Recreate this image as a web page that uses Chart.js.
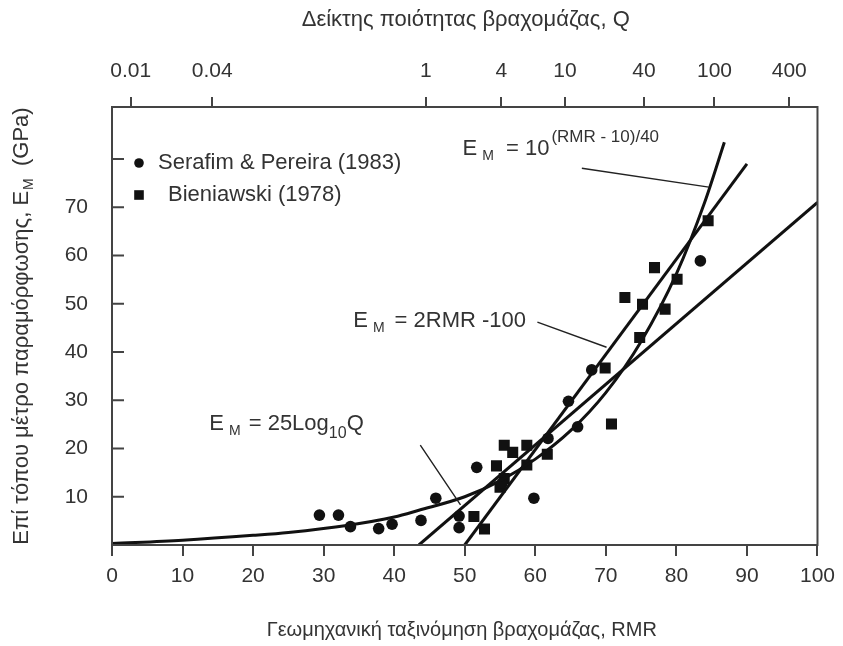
<!DOCTYPE html>
<html><head><meta charset="utf-8">
<script src="https://cdn.jsdelivr.net/npm/chart.js@4.4.1/dist/chart.umd.min.js"></script>
<style>html,body{margin:0;padding:0;background:#fff;}canvas{display:block}</style>
</head><body>
<canvas id="c" width="843" height="646"></canvas>
<script>
// ---------- data ----------
const rmrTickValues = [0,10,20,30,40,50,60,70,80,90,100];
const emTickValues = [10,20,30,40,50,60,70,80];
const emTickLabels = ['10','20','30','40','50','60','70',''];
const qTickLabels = ['0.01','0.04','1','4','10','40','100','400'];
const qTickRMR = [2.65, 14.2, 44.5, 55.2, 64.2, 75.4, 85.4, 96.0];

const serafimRMR = [29.4,32.1,33.8,37.8,39.7,43.8,45.9,49.2,49.2,51.7,55.3,59.8,61.8,64.7,66.0,68.0,83.4];
const serafimEM  = [6.2, 6.2, 3.8, 3.4, 4.3, 5.1, 9.7, 6.0, 3.6, 16.1,12.8,9.7, 22.1,29.8,24.5,36.3,58.9];

const bieniawskiRMR = [51.3,52.8,54.5,55.0,55.6,55.6,56.8,58.8,58.8,61.7,69.9,70.8,72.7,74.8,75.2,76.9,78.4,80.1,84.5];
const bieniawskiEM  = [5.9, 3.3, 16.4,12.0,13.8,20.7,19.2,20.7,16.6,18.8,36.7,25.1,51.3,43.0,49.9,57.5,48.9,55.1,67.2];

const linearRMR = [50, 90];          // E = 2RMR - 100
const linearEM  = [0, 79];
const logQRMR   = [43.5, 100];       // E = 25 log10 Q
const logQEM    = [0, 71];
const expRMR = [0, 10, 20, 25, 33.5, 40, 43.5, 50, 55, 60, 65, 70, 75, 80, 84, 86.8]; // E = 10^((RMR-10)/40)
const expEM  = [0.3, 1.0, 2.0, 2.6, 4.1, 5.8, 7.2, 10.0, 13.3, 17.8, 23.7, 31.6, 42.2, 56.2, 71, 83.5];

const legendLabels = ['Serafim & Pereira (1983)', 'Bieniawski (1978)'];
const xTitle = 'Γεωμηχανική ταξινόμηση βραχομάζας, RMR';
const topTitle = 'Δείκτης ποιότητας βραχομάζας, Q';

// ---------- styles ----------
const FONT = "'Liberation Sans', Arial, sans-serif";
const FS = 22;      // annotations, legend, y title, top title
const FT = 21;      // tick labels
const FB = 20;      // bottom title
const TXT = '#333';
const AX = '#444';
const INK = '#111';

const pts = (xs, ys) => xs.map((v,i)=>({x:v, y:ys[i]}));

function rich(ctx, x, y, parts, base){
  let cx = x;
  parts.forEach(p=>{
    const s = p.s || base;
    ctx.font = `${s}px ${FONT}`;
    cx += (p.pre||0);
    ctx.fillText(p.t, cx, y + (p.dy||0));
    cx += ctx.measureText(p.t).width;
  });
  return cx - x;
}
function richWidth(ctx, parts, base){
  let w=0; parts.forEach(p=>{ctx.font=`${p.s||base}px ${FONT}`; w+=ctx.measureText(p.t).width+(p.pre||0);}); return w;
}

const deco = {
  id:'deco',
  afterDraw(chart){
    const {ctx, chartArea:a, scales:{x,y}} = chart;
    const X = v=>x.getPixelForValue(v), Y = v=>y.getPixelForValue(v);
    ctx.save();
    // frame
    ctx.strokeStyle = AX; ctx.lineWidth = 2;
    ctx.strokeRect(a.left, a.top, a.right-a.left, a.bottom-a.top);
    // inward y ticks
    ctx.beginPath();
    emTickValues.forEach(v=>{const py=Y(v); ctx.moveTo(a.left, py); ctx.lineTo(a.left+12, py);});
    ctx.stroke();
    // leader lines
    ctx.strokeStyle = '#222'; ctx.lineWidth = 1.4;
    const leaders = [[66.6,78.1,84.6,74.2],[60.3,46.2,70.1,41.0],[43.7,20.7,49.4,8.3]];
    ctx.beginPath();
    leaders.forEach(l=>{ctx.moveTo(X(l[0]),Y(l[1])); ctx.lineTo(X(l[2]),Y(l[3]));});
    ctx.stroke();
    // annotations
    ctx.fillStyle = TXT; ctx.textBaseline='alphabetic'; ctx.textAlign='left';
    rich(ctx, X(49.7), Y(80.8), [{t:'E'},{t:'M',s:14,dy:5,pre:5},{t:'= 10',pre:12},{t:'(RMR - 10)/40',s:17,dy:-13,pre:2}], FS);
    rich(ctx, X(34.2), Y(45.2), [{t:'E'},{t:'M',s:14,dy:5,pre:5},{t:'= 2RMR -100',pre:10}], FS);
    rich(ctx, X(13.8), Y(23.8), [{t:'E'},{t:'M',s:14,dy:5,pre:5},{t:'= 25Log',pre:8},{t:'10',s:16,dy:8},{t:'Q'}], FS);
    // legend
    ctx.fillStyle = INK;
    const lx = a.left + 27;
    const ly1 = a.top + 56, ly2 = a.top + 88;
    ctx.beginPath(); ctx.arc(lx, ly1, 4.8, 0, Math.PI*2); ctx.fill();
    ctx.fillRect(lx-4.8, ly2-4.8, 9.6, 9.6);
    ctx.fillStyle = TXT; ctx.font = `${FS}px ${FONT}`; ctx.textBaseline='middle';
    ctx.fillText(legendLabels[0], lx+19, ly1);
    ctx.fillText(legendLabels[1], lx+29, ly2);
    // titles
    ctx.textAlign='center'; ctx.textBaseline='middle';
    ctx.font = `${FB}px ${FONT}`;
    ctx.fillText(xTitle, (a.left+a.right)/2 - 3, 630);
    ctx.font = `${FS}px ${FONT}`;
    ctx.fillText(topTitle, (a.left+a.right)/2 + 1, 20);
    // y title rotated with subscript
    ctx.save();
    ctx.translate(20, (a.top+a.bottom)/2);
    ctx.rotate(-Math.PI/2);
    ctx.textAlign='left'; ctx.textBaseline='alphabetic';
    const yParts = [{t:'Επί τόπου μέτρο παραμόρφωσης, E'},{t:'M',s:14,dy:5,pre:1},{t:'  (GPa)'}];
    const w = richWidth(ctx, yParts, FS);
    rich(ctx, -w/2, 8, yParts, FS);
    ctx.restore();
    ctx.restore();
  }
};

new Chart(document.getElementById('c'), {
  type:'scatter',
  data:{datasets:[
    {type:'line', data:pts(expRMR, expEM), borderColor:INK, borderWidth:3, pointRadius:0, cubicInterpolationMode:'monotone', fill:false},
    {type:'line', data:pts(linearRMR, linearEM), borderColor:INK, borderWidth:3, pointRadius:0, fill:false},
    {type:'line', data:pts(logQRMR, logQEM), borderColor:INK, borderWidth:3, pointRadius:0, fill:false},
    {label:legendLabels[0], data:pts(serafimRMR, serafimEM), pointStyle:'circle', pointRadius:5.8, backgroundColor:INK, borderColor:INK, borderWidth:0},
    {label:legendLabels[1], data:pts(bieniawskiRMR, bieniawskiEM), pointStyle:'rect', pointRadius:7.8, backgroundColor:INK, borderColor:INK, borderWidth:0}
  ]},
  options:{
    responsive:false, animation:false, devicePixelRatio:1,
    layout:{padding:{left:0,right:21,top:0,bottom:0}},
    plugins:{legend:{display:false}, tooltip:{enabled:false}},
    scales:{
      x:{type:'linear', position:'bottom', min:0, max:100,
        afterBuildTicks:s=>{s.ticks = rmrTickValues.map(v=>({value:v}));},
        afterFit:s=>{s.height=101;},
        ticks:{font:{family:FONT,size:FT}, color:TXT, padding:8, maxRotation:0, autoSkip:false},
        grid:{drawOnChartArea:false, drawTicks:true, tickLength:11, color:AX, lineWidth:2},
        border:{display:false}},
      x2:{type:'linear', position:'top', min:0, max:100,
        afterBuildTicks:s=>{s.ticks = qTickRMR.map(v=>({value:v}));},
        afterFit:s=>{s.height=107;},
        ticks:{font:{family:FONT,size:FT}, color:TXT, padding:13, maxRotation:0, autoSkip:false,
          callback:(v,i)=>qTickLabels[i]},
        grid:{drawOnChartArea:false, drawTicks:true, tickLength:10, color:AX, lineWidth:2},
        border:{display:false}},
      y:{type:'linear', position:'left', min:0, max:90.8,
        afterBuildTicks:s=>{s.ticks = emTickValues.map(v=>({value:v}));},
        afterFit:s=>{s.width=112;},
        ticks:{font:{family:FONT,size:FT}, color:TXT, padding:24, callback:(v,i)=>emTickLabels[i]},
        grid:{drawOnChartArea:false, drawTicks:false},
        border:{display:false}}
    }
  },
  plugins:[deco]
});
</script></body></html>
